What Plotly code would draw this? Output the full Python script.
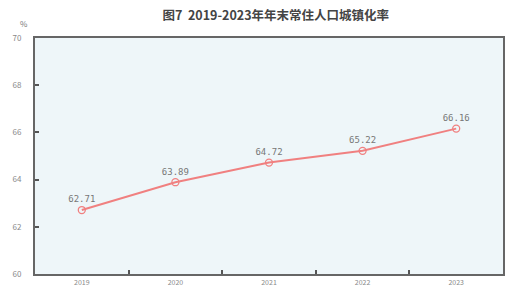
import plotly.graph_objects as go

years = ["2019", "2020", "2021", "2022", "2023"]
rates = [62.71, 63.89, 64.72, 65.22, 66.16]
y_ticks = [60, 62, 64, 66, 68, 70]
y_tick_labels = ["60", "62", "64", "66", "68", "70"]
title_text = "图7  2019-2023年年末常住人口城镇化率"
unit_text = "%"

fig = go.Figure()
fig.add_trace(go.Scatter(
    x=years, y=rates,
    mode="lines+markers+text",
    text=[f"{v:.2f}" for v in rates],
    textposition="top center",
    textfont=dict(family="DejaVu Sans Mono, monospace", size=9, color="#777777"),
    line=dict(color="#f08080", width=2),
    marker=dict(symbol="circle-open", size=7, color="#f08080", line=dict(width=1.3)),
    cliponaxis=False,
))

fig.update_layout(
    width=506, height=288,
    margin=dict(l=35, r=3, t=38, b=14, autoexpand=False),
    paper_bgcolor="white",
    plot_bgcolor="#eef6f9",
    showlegend=False,
    font=dict(family="Noto Sans CJK SC", color="#777777", size=8),
    title=dict(text=title_text, x=0.545, xanchor="center", y=0.945, yanchor="middle",
               font=dict(family="Noto Sans CJK SC", size=12.5, color="#444444", weight="bold")),
    annotations=[dict(text=unit_text, xref="paper", yref="paper", x=-0.01, y=1.0,
                      xanchor="right", yanchor="bottom", yshift=7, showarrow=False,
                      font=dict(size=8, color="#777777"))],
)
fig.update_xaxes(
    type="category", range=[-0.5, 4.5], showgrid=False, zeroline=False, automargin=False,
    showline=True, linecolor="#666666", linewidth=2, mirror=True,
    ticks="inside", tickson="boundaries", ticklen=4, tickcolor="#555555", tickwidth=1.5,
    tickfont=dict(size=7, color="#888888"), ticklabelstandoff=1,
)
fig.update_yaxes(
    range=[60, 70], tickvals=y_ticks, ticktext=y_tick_labels, automargin=False,
    showgrid=False, zeroline=False,
    showline=True, linecolor="#666666", linewidth=2, mirror=True,
    ticks="inside", ticklen=4, tickcolor="#555555", tickwidth=1.5,
    tickfont=dict(size=8, color="#888888"), ticklabelstandoff=10,
)

fig.write_html("out.html", config={"displayModeBar": False},
               post_script="document.body.style.margin='0';document.body.style.overflow='hidden';")
